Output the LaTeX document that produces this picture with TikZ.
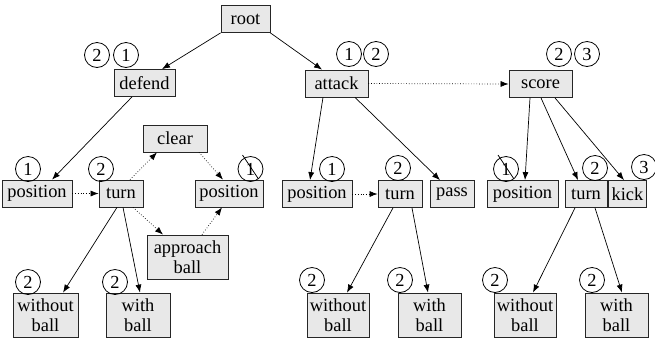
\documentclass[tikz,border=0pt]{standalone}
\usepackage{fontspec}
\setmainfont{Liberation Serif}
\usetikzlibrary{arrows.meta,calc}
\newcommand{\fs}{\fontsize{18.4}{19.5}\selectfont}
\begin{document}
\begin{tikzpicture}[x=1pt,y=-1pt,
  box/.style={draw=black!85, fill=black!9, line width=0.8pt, inner sep=0pt,
    font=\fs, align=center, minimum height=27pt},
  box2/.style={box, minimum height=44pt},
  num/.style={circle, draw, line width=0.8pt, minimum size=25pt, inner sep=0pt, font=\fs},
  arr/.style={-{Latex[length=8pt,width=6pt]}, line width=0.7pt},
  dotarr/.style={arr, dotted}]
\useasboundingbox (0,0) rectangle (655,341);
% row 0/1
\node[box, minimum width=49pt] (root) at (245.5,19) {root};
\node[box, minimum width=61pt] (defend) at (144.5,83) {defend};
\node[box, minimum width=63pt] (attack) at (336.5,83.5) {attack};
\node[box, minimum width=63pt] (score) at (540.5,84) {score};
% row 2
\node[box, minimum width=64pt] (clear) at (175,138.5) {clear};
\node[box, minimum width=70pt] (posL) at (37,193.5) {position};
\node[box, minimum width=44pt] (turnL) at (121,193.5) {turn};
\node[box, minimum width=68pt] (posM) at (229,193.5) {position};
\node[box, minimum width=70pt] (posA) at (317,194) {position};
\node[box, minimum width=44pt] (turnA) at (400,194) {turn};
\node[box, minimum width=44pt] (pass) at (452,194) {pass};
\node[box, minimum width=71pt] (posS) at (522.5,194) {position};
\node[box, minimum width=42pt] (turnS) at (586,194) {turn};
\node[box, minimum width=38pt] (kick) at (627.5,194) {kick};
% row 3
\node[box2, minimum width=81pt] (appr) at (187.5,257) {approach\\ball};
\node[box2, minimum width=65pt] (woL) at (45.5,315) {without\\ball};
\node[box2, minimum width=64pt] (wiL) at (138,315) {with\\ball};
\node[box2, minimum width=62pt] (woA) at (338,315) {without\\ball};
\node[box2, minimum width=63pt] (wiA) at (429.5,315) {with\\ball};
\node[box2, minimum width=62pt] (woS) at (525,315) {without\\ball};
\node[box2, minimum width=63pt] (wiS) at (616.5,315) {with\\ball};
% circles
\node[num] (cd1) at (97,55) {2};
\node[num] (cd2) at (126,55) {1};
\node[num] (ca1) at (349,54) {1};
\node[num] (ca2) at (376,54) {2};
\node[num] (cs1) at (559,54) {2};
\node[num] (cs2) at (587,54) {3};
\node[num] (cpL) at (28,169) {1};
\node[num] (ctL) at (101,169) {2};
\node[num] (cpM) at (250.5,169) {1};
\node[num] (cpA) at (332,169) {1};
\node[num] (ctA) at (398,168) {2};
\node[num] (cpS) at (506,169) {1};
\node[num] (ctS) at (595,168) {2};
\node[num] (ck) at (644,167) {3};
\node[num] (cwoL) at (28,282) {2};
\node[num] (cwiL) at (115,282) {2};
\node[num] (cwoA) at (312,280) {2};
\node[num] (cwiA) at (400,280) {2};
\node[num] (cwoS) at (495,280) {2};
\node[num] (cwiS) at (592,280) {2};
% strike-throughs
\draw[line width=0.8pt] ($(cpM)+(-8,-14)$) -- ($(cpM)+(8,10)$);
\draw[line width=0.8pt] ($(cpS)+(-8,-14)$) -- ($(cpS)+(8,10)$);
% connectors
\draw[arr] (root.south west) -- ([xshift=17.5pt]defend.north);
\draw[arr] (root.south east) -- ([xshift=-14.5pt]attack.north);
\draw[dotarr] (attack.east) -- (score.west);
\draw[arr] ([xshift=-12.5pt]defend.south) -- ([xshift=15pt]posL.north);
\draw[dotarr] (posL.east) -- (turnL.west);
\draw[dotarr] ([xshift=9pt]turnL.north) -- ([xshift=-18pt]clear.south);
\draw[dotarr] ([xshift=24pt]clear.south) -- ([xshift=-6pt]posM.north);
\draw[dotarr] ([xshift=12pt]turnL.south) -- ([xshift=-24.5pt]appr.north);
\draw[dotarr] ([xshift=14.5pt]appr.north) -- ([xshift=-7pt]posM.south);
\draw[arr] ([xshift=-4pt]turnL.south) -- ([xshift=17.5pt]woL.north);
\draw[arr] ([xshift=2pt]turnL.south) -- ([xshift=2pt]wiL.north);
\draw[arr] ([xshift=-13.5pt]attack.south) -- ([xshift=-7pt]posA.north);
\draw[arr] ([xshift=18.5pt]attack.south) -- ([xshift=-12pt]pass.north);
\draw[dotarr] (posA.east) -- (turnA.west);
\draw[arr] ([xshift=-7pt]turnA.south) -- ([xshift=9pt]woA.north);
\draw[arr] ([xshift=12pt]turnA.south) -- ([xshift=-1.5pt]wiA.north);
\draw[arr] ([xshift=-10.5pt]score.south) -- ([xshift=2.5pt]posS.north);
\draw[arr] ([xshift=0.5pt]score.south) -- ([xshift=-8pt]turnS.north);
\draw[arr] ([xshift=14.5pt]score.south) -- ([xshift=-3.5pt]kick.north);
\draw[arr] ([xshift=-11pt]turnS.south) -- ([xshift=8pt]woS.north);
\draw[arr] ([xshift=9pt]turnS.south) -- ([xshift=5.5pt]wiS.north);
\end{tikzpicture}
\end{document}
